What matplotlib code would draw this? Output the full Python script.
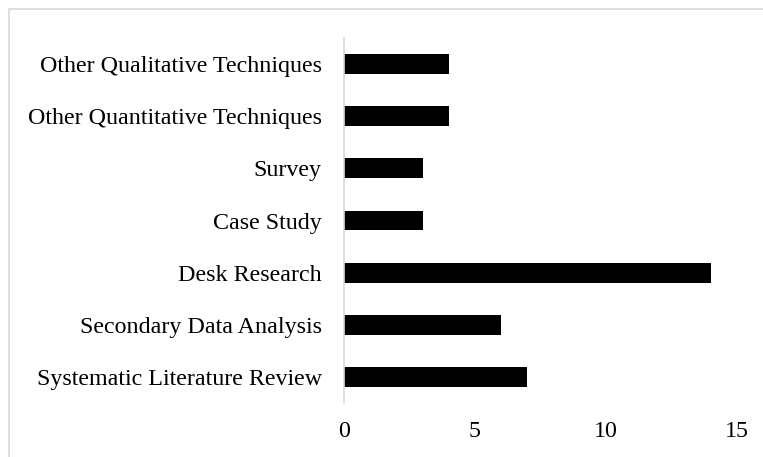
import matplotlib
matplotlib.use('Agg')
import matplotlib.pyplot as plt
from matplotlib.patches import Rectangle

categories = ['Systematic Literature Review', 'Secondary Data Analysis', 'Desk Research',
              'Case Study', 'Survey', 'Other Quantitative Techniques', 'Other Qualitative Techniques']
values = [7, 6, 14, 3, 3, 4, 4]
x_ticks = [0, 5, 10, 15]

plt.rcParams['font.family'] = ['Liberation Serif', 'DejaVu Serif']

fig = plt.figure(figsize=(7.63, 4.57), dpi=100)
# axes box in pixels: left 344, right 737, top 38, bottom 403
ax = fig.add_axes([344 / 763, (457 - 403) / 457, (737 - 344) / 763, (403 - 38) / 457])

ax.barh(range(len(categories)), values, height=0.38, color='black')
ax.set_ylim(-0.5, len(categories) - 0.5)
ax.set_xlim(0, 15)
ax.set_xticks(x_ticks)
ax.set_yticks(range(len(categories)))
ax.set_yticklabels(categories)
ax.tick_params(axis='both', length=0, labelsize=17.3)
ax.tick_params(axis='y', pad=16)
ax.tick_params(axis='x', pad=13)

for s in ['top', 'right', 'bottom']:
    ax.spines[s].set_visible(False)
ax.spines['left'].set_color('#d9d9d9')
ax.spines['left'].set_linewidth(1.2)

# light outer frame of the chart area (cut off on right and bottom)
fig.patches.append(Rectangle((9 / 763, -0.1), 1.2, (457 - 9) / 457 + 0.1,
                             transform=fig.transFigure, fill=False,
                             edgecolor='#d9d9d9', linewidth=1.2))

fig.savefig('out.png', dpi=100)
